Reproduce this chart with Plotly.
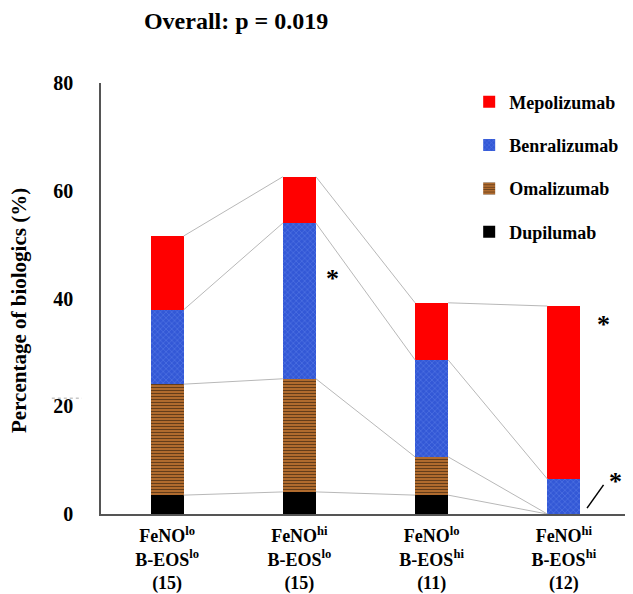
import plotly.graph_objects as go

# groups (x positions 0..3)
groups = ["FeNO<sup>lo</sup><br>B-EOS<sup>lo</sup><br>(15)",
          "FeNO<sup>hi</sup><br>B-EOS<sup>lo</sup><br>(15)",
          "FeNO<sup>lo</sup><br>B-EOS<sup>hi</sup><br>(11)",
          "FeNO<sup>hi</sup><br>B-EOS<sup>hi</sup><br>(12)"]

# percentages
dupilumab = [3.5, 4.1, 3.5, 0.0]
omalizumab = [20.6, 21.0, 7.1, 0.0]
benralizumab = [13.8, 28.9, 18.0, 6.5]
mepolizumab = [13.7, 8.6, 10.6, 32.1]

y_ticks = [0, 20, 40, 60, 80]

FONT = "Liberation Serif"
bar_w = 0.25
xs = list(range(len(groups)))

fig = go.Figure()

series = [
    ("Dupilumab", dupilumab, dict(color="black")),
    ("Omalizumab", omalizumab, dict(color="#c97a35",
                                    pattern=dict(shape="-", fgcolor="black", bgcolor="#c97a35",
                                                 size=3, solidity=0.5, fillmode="overlay"))),
    ("Benralizumab", benralizumab, dict(color="#3358d6",
                                        pattern=dict(shape="x", fgcolor="#6f8ff0", bgcolor="#3358d6",
                                                     size=4, solidity=0.3, fillmode="overlay"))),
    ("Mepolizumab", mepolizumab, dict(color="#ff0000")),
]

for i, (name, vals, marker) in enumerate(series):
    marker["line"] = dict(width=0)
    fig.add_trace(go.Bar(x=xs, y=vals, name="<b>%s</b>" % name, width=bar_w, marker=marker,
                         legendgroup=name, legendrank=100 - i))

# connector lines between cumulative tops
cum = [0.0] * len(groups)
for name, vals, _ in series:
    cum = [c + v for c, v in zip(cum, vals)]
    for j in range(len(groups) - 1):
        fig.add_trace(go.Scatter(
            x=[xs[j] + bar_w / 2, xs[j + 1] - bar_w / 2],
            y=[cum[j], cum[j + 1]],
            mode="lines", line=dict(color="#b8b8b8", width=1),
            showlegend=False, hoverinfo="skip"))

# significance marks
star = dict(family=FONT, size=26, color="black")
fig.add_annotation(x=1.25, y=43.8, text="<b>*</b>", showarrow=False, font=star)
fig.add_annotation(x=3.30, y=35.1, text="<b>*</b>", showarrow=False, font=star)
fig.add_annotation(x=3.39, y=6.1, text="<b>*</b>", showarrow=False, font=star)
fig.add_shape(type="line", x0=3.175, y0=1.1, x1=3.30, y1=5.4,
              line=dict(color="black", width=1.5))

# small dotted mark left of the axis
fig.add_shape(type="line", xref="paper", yref="y", x0=-0.093, x1=-0.036, y0=21.5, y1=21.5,
              line=dict(color="#aaaaaa", width=1, dash="dot"))

# y axis title as annotation (sits a bit below the plot centre)
fig.add_annotation(xref="paper", yref="paper", x=-0.155, y=0.471, textangle=-90,
                   text="<b>Percentage of biologics (%)</b>", showarrow=False,
                   xanchor="center", yanchor="middle",
                   font=dict(family=FONT, size=21, color="black"))

fig.update_layout(
    width=625, height=586,
    barmode="stack",
    plot_bgcolor="white", paper_bgcolor="white",
    margin=dict(l=93, r=3, t=75, b=80, autoexpand=False),
    font=dict(family=FONT, color="black"),
    title=dict(text="<b>Overall: p = 0.019</b>", x=0.365, xanchor="center",
               y=0.978, yanchor="middle", font=dict(family=FONT, size=24)),
    legend=dict(x=0.696, y=0.999, xanchor="left", yanchor="top",
                traceorder="grouped", tracegroupgap=17,
                font=dict(family=FONT, size=18, color="black"),
                itemwidth=30),
    showlegend=True,
)

fig.update_xaxes(
    range=[-0.5, 3.5], tickvals=xs,
    ticktext=["<b>" + g.replace("<br>", "</b><br><b>") + "</b>" for g in groups],
    tickfont=dict(family=FONT, size=18),
    ticklabelstandoff=5,
    showline=True, linecolor="#555555", linewidth=1.5,
    showgrid=False, zeroline=False, ticks="",
)
fig.update_yaxes(
    range=[0, 80], tickvals=y_ticks,
    ticktext=["<b>%d</b>" % t for t in y_ticks],
    tickfont=dict(family=FONT, size=20),
    ticklabelstandoff=22,
    showline=True, linecolor="#555555", linewidth=1.5,
    showgrid=False, zeroline=False, ticks="",
)

fig.write_html("out.html")
